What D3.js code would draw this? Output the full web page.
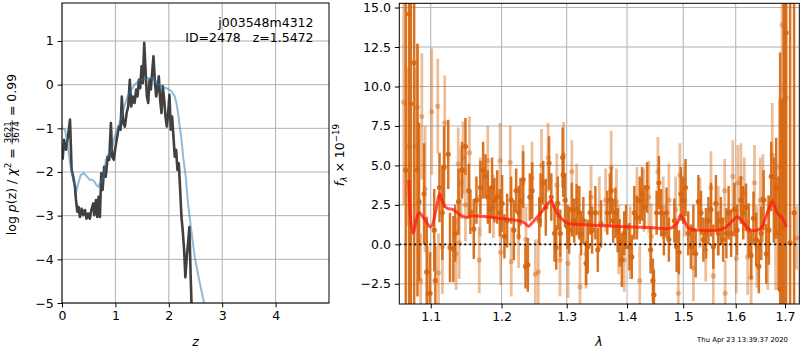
<!DOCTYPE html>
<html>
<head>
<meta charset="utf-8">
<script src="https://cdn.jsdelivr.net/npm/d3@7"></script>
<style>
body{margin:0;background:#fff}
svg{display:block;font-family:"DejaVu Sans",sans-serif}
</style>
</head>
<body>
<script>
// ---- data ----
// left panel: log p(z) (black) and template prior-ish curve (blue)
let zBlack = [0.012,0.037,0.075,0.112,0.15,0.18,0.21,0.243,0.262,0.287,0.31,0.336,0.368,0.40,0.43,0.46,0.49,0.52,0.55,0.586,0.604,0.636,0.66,0.685,0.71,0.735,0.76,0.79,0.82,0.854,0.885,0.916,0.94,0.97,1.003,1.034,1.065,1.097,1.12,1.146,1.178,1.21,1.24,1.27,1.296,1.327,1.358,1.39,1.414,1.44,1.464,1.49,1.514,1.54,1.564,1.59,1.614,1.64,1.664,1.688,1.713,1.738,1.763,1.788,1.813,1.838,1.863,1.888,1.913,1.938,1.963,1.988,2.012,2.037,2.062,2.087,2.112,2.137,2.162,2.187,2.21,2.237,2.26,2.287,2.31,2.336,2.36,2.386,2.41,2.43];
let lpBlack = [-1.72,-1.26,-1.49,-1.19,-0.80,-1.95,-2.11,-2.34,-2.64,-2.91,-2.80,-3.03,-2.84,-2.99,-2.87,-3.07,-2.95,-3.07,-2.87,-2.72,-2.99,-2.64,-3.03,-2.57,-3.03,-2.03,-2.41,-1.88,-2.11,-1.65,-1.72,-0.88,-1.65,-1.72,-1.42,-1.19,-0.96,-1.03,-0.27,-0.88,-0.96,-0.65,-0.50,0.11,-0.50,-0.27,-0.42,-0.11,-0.27,0.11,-0.08,0.42,0.04,0.96,0.34,-0.27,-0.42,0.11,-0.11,0.27,0.65,0.11,-0.27,-0.11,0.19,-0.34,-0.65,-0.04,-0.34,-0.73,-0.96,-0.65,-0.23,-1.03,-0.73,-1.19,-1.65,-1.49,-1.95,-1.80,-2.34,-3.03,-3.33,-3.79,-4.41,-3.95,-3.64,-3.26,-4.41,-5.2];
let zBlue = [0.012,0.056,0.10,0.15,0.21,0.274,0.305,0.35,0.41,0.474,0.52,0.567,0.604,0.648,0.68,0.71,0.76,0.79,0.82,0.866,0.928,0.99,1.053,1.115,1.178,1.24,1.302,1.364,1.427,1.49,1.582,1.676,1.738,1.80,1.863,1.956,2.05,2.112,2.143,2.174,2.205,2.237,2.268,2.318,2.36,2.42,2.486,2.57,2.66,2.75];
let lpBlue = [-1.0,-1.03,-1.34,-1.8,-2.18,-2.41,-2.26,-2.07,-2.03,-2.11,-2.18,-2.18,-2.22,-2.30,-2.34,-2.26,-2.18,-2.03,-1.72,-1.61,-1.49,-1.19,-0.96,-0.73,-0.46,-0.23,-0.11,0.0,0.08,0.11,0.15,0.15,0.11,0.0,-0.04,-0.08,-0.15,-0.27,-0.42,-0.65,-0.96,-1.26,-1.65,-2.11,-2.72,-3.33,-3.95,-4.48,-5.0,-5.6];

// right panel: spectrum, two sets of points with errors, plus model
let darkWave = [1.0667,1.0711,1.0734,1.0778,1.0822,1.0843,1.0910,1.0946,1.0991,1.1047,1.1062,1.1119,1.1158,1.1181,1.1239,1.1263,1.1310,1.1335,1.1382,1.1431,1.1479,
  1.1526,1.1549,1.1597,1.1635,1.1692,1.1731,1.1765,1.1799,1.1828,1.1861,1.1895,1.1935,1.1974,1.2008,1.2042,1.2082,1.2142,1.2182,1.2217,1.2257,1.2282,1.2322,1.2358,1.2394,1.2424,1.2460,
  1.2569,1.2589,1.2630,1.2670,1.2721,1.2756,1.2807,1.2833,1.2858,1.2898,1.2935,1.2944,1.2974,1.3012,1.3038,1.3082,1.3120,1.3160,1.3203,1.3231,1.3268,1.3313,1.3341,1.3379,1.3412,1.3466,1.3506,1.3560,
  1.3664,1.3708,1.3730,1.3763,1.3802,1.3840,1.3873,1.3911,1.3951,1.3984,1.4041,1.4082,1.4125,1.4171,1.4220,1.4261,1.4304,1.4350,1.4411,1.4452,1.4470,1.4518,1.4559,1.4600,1.4648,1.4697,1.4738,
  1.4839,1.4880,1.4922,1.4957,1.5000,1.5043,1.5094,1.5143,1.5189,1.5232,1.5283,1.5332,1.5377,1.5426,1.5472,1.5521,1.5566,1.5615,1.5660,1.5710,1.5755,1.5817,1.5861,1.5911,1.5974,1.6027,
  1.6102,1.6149,1.6204,1.6257,1.6306,1.6353,1.6408,1.6461,1.6510,1.6557,1.6612,1.6665,1.6714,1.6767,1.6816,1.6863,1.6898,1.6939,1.6971,1.7021,1.7106,1.7190];
let darkFlux = [4.7,14.6,8.9,11.5,4.7,2.7,3.2,-1.75,-3.1,0.9,-2.3,3.6,2.0,4.9,5.7,-0.2,-0.3,0.7,2.7,4.7,6.2,
  3.4,2.05,0.97,2.8,3.6,4.7,4.3,3.0,2.2,3.6,2.8,3.0,2.0,2.6,0.5,1.5,2.8,0.9,3.4,2.0,2.7,4.1,-1.4,-1.3,3.0,3.4,
  1.5,2.8,3.9,2.35,5.15,3.0,0.7,-0.2,2.6,0.7,5.5,4.4,2.8,1.1,0.9,2.2,1.5,2.2,2.0,0.7,1.5,-1.2,-0.15,2.0,0.9,2.0,-0.35,1.3,
  2.0,2.8,3.4,1.5,2.0,0.9,0.1,-1.0,0.7,1.1,-0.15,-0.8,2.0,1.7,2.8,3.2,2.35,3.6,-0.35,-2.3,-3.2,2.0,3.9,2.0,0.7,2.0,0.3,
  1.5,-0.15,-0.5,3.2,2.8,3.6,0.7,-0.15,0.9,-0.6,2.7,2.0,0.3,0.7,1.5,2.2,-0.15,2.6,0.7,1.5,0.3,0.7,2.0,0.7,2.2,0.9,
  2.8,2.0,2.35,0.9,-0.7,1.65,0.3,-1.4,0.7,2.8,-0.6,0.9,4.3,2.8,3.55,0.7,-2.85,1.1,9.1,13.4,0.1,2.0];
let darkErr = [11,20,13,16,8,5,3.2,3.5,2.6,2.6,2.2,2.2,3,2.6,2.2,2.2,2.1,1.8,2.1,1.8,1.8,
  1.7,1.4,1.9,1.5,1.7,1.8,1.4,1.7,1.5,1.9,1.4,1.7,1.5,1.8,1.4,1.7,1.5,1.9,1.4,1.7,1.5,1.8,1.4,1.7,1.5,1.8,
  1.5,1.7,1.4,1.8,1.7,1.5,1.8,1.4,1.7,1.5,1.9,1.4,1.7,1.4,1.5,1.7,1.4,1.6,1.7,1.4,1.5,1.4,1.7,1.4,1.5,1.7,1.4,1.5,
  1.4,1.7,1.5,1.4,1.6,1.4,1.5,1.7,1.4,1.4,1.5,1.4,1.7,1.4,1.5,1.7,1.4,1.6,1.5,1.4,1.6,1.4,1.7,1.5,1.4,1.6,1.4,
  1.4,1.6,1.4,1.7,1.5,1.8,1.4,1.4,1.6,1.5,1.7,1.4,1.4,1.6,1.5,1.7,1.4,1.8,1.4,1.5,1.4,1.6,1.7,1.5,1.7,1.6,
  1.5,1.7,1.5,1.7,1.5,1.7,1.7,1.7,1.7,1.9,1.9,2.2,2.2,2.7,3.2,3.6,15,8,15,20,18,20];

let lightWave = [1.0640,1.0697,1.0791,1.0822,1.0864,1.0880,1.0923,1.0964,1.1014,1.1095,1.1105,1.1158,1.1191,1.1349,1.1378,1.1392,1.1417,1.1445,1.1479,
  1.1536,1.1675,1.1689,1.1798,1.1880,1.1977,1.1986,1.2128,1.2143,1.2254,1.2320,1.2365,1.2457,1.2508,
  1.2554,1.2604,1.2706,1.2843,1.2893,1.2950,1.3021,1.3082,1.3160,1.3214,1.3313,1.3395,1.3532,
  1.3637,1.3730,1.3819,1.3857,1.3951,1.4054,1.4171,1.4220,1.4291,1.4380,1.4421,1.4541,1.4636,1.4738,
  1.4863,1.4911,1.4939,1.5030,1.5189,1.5313,1.5421,1.5521,1.5566,1.5660,1.5785,1.5794,1.5943,1.6012,1.6041,
  1.6102,1.6169,1.6237,1.6306,1.6373,1.6420,1.6490,1.6543,1.6645,1.6735,1.6802,1.6884,1.6939,1.6986,1.7021,1.7240];
let lightFlux = [9.0,6.2,6.2,8.7,-2.3,8.1,3.5,-3.1,8.4,8.75,-1.8,-0.15,7.7,-0.6,5.1,0.1,3.9,5.5,2.5,
  5.8,-1.0,3.0,5.3,2.4,5.3,-0.5,5.2,-1.1,0.5,3.9,0.3,4.2,-1.9,
  -1.75,5.0,5.5,3.75,-1.0,5.65,-1.2,4.6,2.8,-2.7,-0.6,3.0,2.0,
  2.8,4.9,2.7,0.3,-1.0,0.1,2.8,-2.3,2.8,3.0,0.5,4.6,2.3,2.8,
  2.2,-3.1,4.4,2.8,-1.5,2.0,-0.35,3.6,-2.0,1.5,3.4,-3.1,4.3,-0.9,3.9,
  4.2,3.2,-0.8,-2.1,3.9,-0.15,2.8,2.9,0.1,5.65,0.7,4.9,13.9,9.8,9.3,0.4];
let lightErr = [6.5,5,5,4,3,4,4,3,4,3,2.5,3,3,2.3,2.3,2.3,2.3,2.3,2.3,
  2.3,2.1,2.5,2.2,2.0,2.4,2.1,2.3,2.2,2.0,2.4,2.1,2.3,2.2,
  2.1,2.3,2.2,2.0,2.3,2.1,2.2,2.0,2.3,2.1,2.2,2.0,2.3,
  2.0,2.3,2.1,2.2,2.0,2.3,2.1,2.2,2.0,2.3,2.1,2.2,2.0,2.3,
  2.1,2.2,2.0,2.3,2.1,2.2,2.0,2.3,2.1,2.2,2.0,2.1,2.3,2.2,2.4,
  2.2,2.3,2.4,2.5,2.4,2.6,2.7,2.8,3.0,3.3,3.6,4.3,10,8,8,2];

let modelWave = [1.0706,1.0761,1.0842,1.0909,1.1000,1.1072,1.1119,1.1158,1.1216,1.1310,1.1407,1.1503,1.1565,1.1948,1.2250,1.2345,1.2401,1.2478,1.2604,1.2706,1.2756,1.2807,1.2909,1.3012,1.3231,1.3780,1.4357,1.4773,1.4893,1.4952,1.5011,1.5106,1.5264,1.5766,1.5925,1.6033,1.6155,1.6292,1.6496,1.6633,1.6735,1.6837,1.6939,1.7027];
let modelFlux = [4.1,0.7,2.0,1.65,1.1,2.2,3.2,2.7,2.3,2.2,1.85,1.7,1.8,1.65,1.5,1.35,1.15,1.45,2.05,2.6,2.8,2.3,1.65,1.35,1.25,1.15,1.07,1.03,1.35,1.85,1.55,1.0,0.9,1.0,1.45,1.75,1.35,0.9,1.0,2.0,2.7,2.0,1.65,1.1];

let zTicks = [0,1,2,3,4];
let lpTicks = [-5,-4,-3,-2,-1,0,1];
let waveTicks = [1.1,1.2,1.3,1.4,1.5,1.6,1.7];
let fluxTicks = [-2.5,0,2.5,5,7.5,10,12.5,15];

// ---- layout ----
let width = 800, height = 350;
let fs = 12.5;
let gridColor = "#b0b0b0";
let svg = d3.select("body").append("svg").attr("width", width).attr("height", height);

let L = {x0: 62, x1: 329, y0: 3, y1: 303};
let R = {x0: 399.3, x1: 799.3, y0: 3.3, y1: 304};

let xz = d3.scaleLinear().domain([0, 5]).range([L.x0, L.x1]);
let ylp = d3.scaleLinear().domain([-5, 1.87]).range([L.y1, L.y0]);
let xw = d3.scaleLog().domain([1.0583, 1.730]).range([R.x0, R.x1]);
let yf = d3.scaleLinear().domain([-3.78, 15.27]).range([R.y1, R.y0]);

let defs = svg.append("defs");
defs.append("clipPath").attr("id", "clipL").append("rect")
    .attr("x", L.x0).attr("y", L.y0).attr("width", L.x1 - L.x0).attr("height", L.y1 - L.y0);
defs.append("clipPath").attr("id", "clipR").append("rect")
    .attr("x", R.x0).attr("y", R.y0).attr("width", R.x1 - R.x0).attr("height", R.y1 - R.y0);

function grid(g, xs, ys, xScale, yScale, box){
    g.selectAll(null).data(xs).enter().append("line")
        .attr("x1", d => xScale(d)).attr("x2", d => xScale(d))
        .attr("y1", box.y0).attr("y2", box.y1)
        .attr("stroke", gridColor).attr("stroke-width", 1);
    g.selectAll(null).data(ys).enter().append("line")
        .attr("x1", box.x0).attr("x2", box.x1)
        .attr("y1", d => yScale(d)).attr("y2", d => yScale(d))
        .attr("stroke", gridColor).attr("stroke-width", 1);
}

function axes(xScale, yScale, box, xt, yt, xfmt, yfmt){
    let gx = svg.append("g").attr("transform", "translate(0," + box.y1 + ")")
        .call(d3.axisBottom(xScale).tickValues(xt).tickFormat(xfmt).tickSize(4.4).tickPadding(4));
    let gy = svg.append("g").attr("transform", "translate(" + box.x0 + ",0)")
        .call(d3.axisLeft(yScale).tickValues(yt).tickFormat(yfmt).tickSize(4.4).tickPadding(4));
    [gx, gy].forEach(g => {
        g.select(".domain").remove();
        g.attr("font-family", null).attr("font-size", fs);
        g.selectAll("text").attr("fill", "#000");
        g.selectAll("line").attr("stroke", "#000");
    });
    svg.append("rect").attr("x", box.x0).attr("y", box.y0)
        .attr("width", box.x1 - box.x0).attr("height", box.y1 - box.y0)
        .attr("fill", "none").attr("stroke", "#000").attr("stroke-width", 1);
}

// ---- left panel ----
grid(svg.append("g"), zTicks, lpTicks, xz, ylp, L);

let left = svg.append("g").attr("clip-path", "url(#clipL)");
let lineLp = d3.line().x(d => xz(d[0])).y(d => ylp(d[1]));
left.append("path")
    .attr("d", lineLp(zBlack.map((z, i) => [z, lpBlack[i]])))
    .attr("fill", "none").attr("stroke", "#404040").attr("stroke-width", 2.6)
    .attr("stroke-linejoin", "round");
left.append("path")
    .attr("d", lineLp(zBlue.map((z, i) => [z, lpBlue[i]])))
    .attr("fill", "none").attr("stroke", "#1f77b4").attr("stroke-opacity", 0.5)
    .attr("stroke-width", 2);

axes(xz, ylp, L, zTicks, lpTicks, d3.format("d"), d3.format("d"));

svg.append("text").attr("x", 313.5).attr("y", 26.5).attr("text-anchor", "end")
    .attr("font-size", fs).text("j003548m4312");
svg.append("text").attr("x", 313.5).attr("y", 41.5).attr("text-anchor", "end")
    .attr("font-size", fs).style("white-space", "pre").text("ID=2478   z=1.5472");

svg.append("text").attr("x", (L.x0 + L.x1) / 2).attr("y", 345.5).attr("text-anchor", "middle")
    .attr("font-size", fs).attr("font-style", "italic").text("z");

// rotated y label with a stacked fraction
let ylab = svg.append("g").attr("transform", "translate(15.5,154.5) rotate(-90)");
let part1 = ylab.append("text").attr("font-size", fs).attr("x", 0).attr("y", 0);
part1.append("tspan").text("log ");
part1.append("tspan").attr("font-style", "italic").text("p");
part1.append("tspan").text("(z) / ");
part1.append("tspan").attr("font-style", "italic").text("χ");
part1.append("tspan").attr("font-size", fs * 0.7).attr("dy", -5).text("2");
part1.append("tspan").attr("dy", 5).style("white-space", "pre").text(" = ");
let w1 = part1.node().getComputedTextLength();
let fracFs = fs * 0.7;
let num = ylab.append("text").attr("font-size", fracFs).attr("y", -4.5).attr("text-anchor", "middle").text("3621");
let den = ylab.append("text").attr("font-size", fracFs).attr("y", 3.2).attr("text-anchor", "middle").text("3674");
let wf = Math.max(num.node().getComputedTextLength(), den.node().getComputedTextLength()) + 2;
num.attr("x", w1 + wf / 2);
den.attr("x", w1 + wf / 2);
ylab.append("line").attr("x1", w1).attr("x2", w1 + wf).attr("y1", -3.4).attr("y2", -3.4)
    .attr("stroke", "#000").attr("stroke-width", 0.7);
let part3 = ylab.append("text").attr("font-size", fs).attr("x", w1 + wf).attr("y", 0)
    .style("white-space", "pre").text(" = 0.99");
let wTot = w1 + wf + part3.node().getComputedTextLength();
ylab.selectAll("text,line").attr("transform", "translate(" + (-wTot / 2) + ",0)");

// ---- right panel ----
grid(svg.append("g"), waveTicks, fluxTicks, xw, yf, R);

let right = svg.append("g").attr("clip-path", "url(#clipR)");
let orange = "#d6650d";

function errorbars(g, wave, flux, err, opacity, lw){
    let idx = d3.range(wave.length);
    g.selectAll(null).data(idx).enter().append("line")
        .attr("x1", i => xw(wave[i])).attr("x2", i => xw(wave[i]))
        .attr("y1", i => yf(flux[i] - err[i])).attr("y2", i => yf(flux[i] + err[i]))
        .attr("stroke", orange).attr("stroke-width", lw).attr("stroke-opacity", opacity);
    g.selectAll(null).data(idx).enter().append("circle")
        .attr("cx", i => xw(wave[i])).attr("cy", i => yf(flux[i]))
        .attr("r", 2.6).attr("fill", orange).attr("fill-opacity", opacity);
}
errorbars(right.append("g"), lightWave, lightFlux, lightErr, 0.42, 2.8);
errorbars(right.append("g"), darkWave, darkFlux, darkErr, 0.9, 2.5);

right.append("path")
    .attr("d", d3.line().curve(d3.curveCatmullRom)
        .x(d => xw(d[0])).y(d => yf(d[1]))(modelWave.map((w, i) => [w, modelFlux[i]])))
    .attr("fill", "none").attr("stroke", "#ff1a0a").attr("stroke-opacity", 0.75)
    .attr("stroke-width", 3).attr("stroke-linejoin", "round");

right.append("line").attr("x1", R.x0).attr("x2", R.x1).attr("y1", yf(0)).attr("y2", yf(0))
    .attr("stroke", "#000").attr("stroke-width", 1.9).attr("stroke-dasharray", "1.9,3.1");

axes(xw, yf, R, waveTicks, fluxTicks, d3.format(".1f"), d3.format(".1f"));

svg.append("text").attr("x", 599).attr("y", 346).attr("text-anchor", "middle")
    .attr("font-size", fs).attr("font-style", "italic").text("λ");

let flab = svg.append("text").attr("transform", "translate(344,155) rotate(-90)")
    .attr("text-anchor", "middle").attr("font-size", fs);
flab.append("tspan").attr("font-style", "italic").text("f");
flab.append("tspan").attr("font-style", "italic").attr("font-size", fs * 0.7).attr("dy", 2.5).text("λ");
flab.append("tspan").attr("dy", -2.5).style("white-space", "pre").text(" × 10");
flab.append("tspan").attr("font-size", fs * 0.7).attr("dy", -5).text("−19");

svg.append("text").attr("x", 788).attr("y", 342).attr("text-anchor", "end")
    .attr("font-size", 6.9).text("Thu Apr 23 13:39:37 2020");
</script>
</body>
</html>
